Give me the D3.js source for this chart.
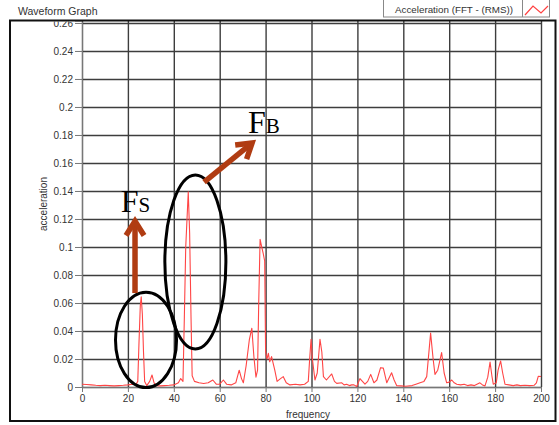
<!DOCTYPE html>
<html>
<head>
<meta charset="utf-8">
<script src="https://cdn.jsdelivr.net/npm/d3@7"></script>
<style>
  body { margin: 0; background: #fff; }
  svg { display: block; font-family: "Liberation Sans", Arial, sans-serif; }
  .tick text { fill: #333; font-size: 10px; }
</style>
</head>
<body>
<svg id="chart" width="559" height="425"></svg>
<script>
/*    ========    DATA    =========    */

// spectrum (frequency in Hz, acceleration RMS)
var freq = [0, 2, 4, 6, 8, 10, 12, 14, 16, 18, 20, 22, 23.5, 24.3, 24.8, 25.4, 25.8, 26.3, 26.8, 27.3,
    28.2, 29.5, 30.5, 31.4, 32.5, 34, 36, 38, 40, 42, 43, 44, 44.6, 45.2, 46.3, 46.9, 47.5, 48, 49,
    51, 53, 55, 57, 58.5, 60, 61.6, 63, 65, 67, 68.5, 69.5, 70.3, 71.5, 72.9, 74, 74.9, 75.8, 76.5,
    77, 77.6, 78.3, 79, 79.6, 80, 80.6, 81.2, 81.8, 82.6, 84, 85, 86.5, 87.7, 89, 90.6, 93, 95, 97,
    98.6, 99.2, 99.8, 100.4, 101.5, 102.5, 103.7, 104.5, 105.2, 106.5, 108.8, 110, 111, 113.2, 114.2,
    115.3, 116.5, 117.5, 118.5, 119.7, 121.1, 122.2, 123.3, 124.5, 125.8, 127.2, 128.5, 130.1, 131.3,
    132.8, 134.9, 136, 137.1, 139, 141, 143.8, 145.5, 147.3, 149, 150.2, 151.9, 153, 153.8, 155,
    156.7, 157.8, 158.9, 160, 161.1, 162.2, 163.3, 165, 166.5, 168, 169.5, 171, 173.4, 174.5, 175.6,
    176.8, 177.8, 178.6, 179.2, 180.5, 181.3, 182.4, 183.3, 184.3, 186, 187.9, 189.5, 191, 193, 195,
    197, 198, 198.8, 200];
var accel = [0.002, 0.0018, 0.0015, 0.0012, 0.001, 0.0012, 0.001, 0.0008, 0.001, 0.0012, 0.0015, 0.002,
    0.0018, 0.004, 0.03, 0.058, 0.0645, 0.052, 0.025, 0.004,
    0.001, 0.004, 0.0086, 0.003, 0.001, 0.0008, 0.001, 0.0012, 0.0015, 0.003, 0.006, 0.004, 0.05, 0.1,
    0.1395, 0.11, 0.05, 0.008, 0.004,
    0.003, 0.0025, 0.003, 0.005, 0.002, 0.002, 0.005, 0.002, 0.0015, 0.003, 0.012, 0.006, 0.003, 0.015,
    0.0336, 0.042, 0.0216, 0.007, 0.012,
    0.06, 0.1055, 0.1, 0.095, 0.09, 0.025, 0.02, 0.024, 0.018, 0.0217, 0.012, 0.004, 0.006, 0.0074,
    0.003, 0.0015, 0.002, 0.0015, 0.002,
    0.004, 0.02, 0.034, 0.02, 0.005, 0.01, 0.034, 0.025, 0.0074, 0.005, 0.0093, 0.004, 0.0026, 0.003,
    0.0015,
    0.002, 0.001, 0.0015, 0.0015, 0.0003, 0.006, 0.004, 0.002, 0.004, 0.009, 0.003, 0.005, 0.0138,
    0.0135,
    0.003, 0.0102, 0.005, 0.001, 0.0008, 0.0005, 0.001, 0.002, 0.003, 0.004, 0.0074, 0.0385, 0.02,
    0.009, 0.012,
    0.0246, 0.01, 0.003, 0.0035, 0.005, 0.003, 0.002, 0.0015, 0.002, 0.001, 0.0015, 0.001, 0.003,
    0.0015, 0.0008,
    0.007, 0.0178, 0.008, 0.002, 0.003, 0.012, 0.0186, 0.01, 0.002, 0.0015, 0.001, 0.0015, 0.001,
    0.0012, 0.001,
    0.0012, 0.003, 0.0076, 0.0075];

var xTicks = [0, 20, 40, 60, 80, 100, 120, 140, 160, 180, 200];
var yTicks = [0, 0.02, 0.04, 0.06, 0.08, 0.1, 0.12, 0.14, 0.16, 0.18, 0.2, 0.22, 0.24, 0.26];

var X_RANGE = [0, 200];
var Y_RANGE = [0, 0.2614];

// hand drawn marks over the graph, placed in data units
var ellipses = [
    { f: 27.9, v: 0.0336, rf: 13.3, rv: 0.034 },
    { f: 49.4, v: 0.0893, rf: 13.3, rv: 0.0621 }
];
var arrows = [
    { f1: 23.1, v1: 0.0671, f2: 23.1, v2: 0.1185 },
    { f1: 53.2, v1: 0.1464, f2: 74.1, v2: 0.1743 }
];
var marks = [
    { big: "F", small: "S", f: 16.9, v: 0.1252 },
    { big: "F", small: "B", f: 72.3, v: 0.1814 }
];

/*    ========    SETTINGS    =========    */

var svg = d3.select('#chart');

// plot box in pixels (note: `top` is a window global, so avoid that name)
var plotLeft = 82, plotRight = 541, plotTop = 21, plotBottom = 387;
var ARROW_COLOR = "#b03c12";

var xscale = d3.scaleLinear().domain(X_RANGE).range([plotLeft, plotRight]);
var yscale = d3.scaleLinear().domain(Y_RANGE).range([plotBottom, plotTop]);

/*    ========    FRAME, TITLE, LEGEND    =========    */

svg.append("text")
    .attr("x", 18).attr("y", 15)
    .style("font-size", "10.5px").style("fill", "#333")
    .text("Waveform Graph");

var legend = svg.append("g");
legend.append("rect")
    .attr("x", 383.5).attr("y", -1).attr("width", 166).attr("height", 18)
    .style("fill", "#fff").style("stroke", "#888");
legend.append("line")
    .attr("x1", 522.5).attr("x2", 522.5).attr("y1", 0).attr("y2", 17)
    .style("stroke", "#888");
legend.append("text")
    .attr("x", 395).attr("y", 12.5)
    .style("font-size", "9.8px").style("fill", "#333")
    .text("Acceleration (FFT - (RMS))");
legend.append("polyline")
    .attr("points", "525,15 533,6 541,13 548,6")
    .style("fill", "none").style("stroke", "#ff4040").style("stroke-width", 1.2);

/*    ========    GRID + AXES    =========    */

var defs = svg.append("defs");
defs.append("clipPath").attr("id", "labelClip")
    .append("rect").attr("x", 0).attr("y", 21.5).attr("width", 559).attr("height", 404);

var xGrid = d3.axisBottom(xscale).tickValues(xTicks).tickSize(-(plotBottom - plotTop)).tickFormat("");
var yGrid = d3.axisLeft(yscale).tickValues(yTicks).tickSize(-(plotRight - plotLeft)).tickFormat("");

svg.append("g").attr("class", "grid")
    .attr("transform", "translate(0," + plotBottom + ")")
    .call(xGrid);
svg.append("g").attr("class", "grid")
    .attr("transform", "translate(" + plotLeft + ",0)")
    .call(yGrid);
svg.selectAll(".grid .domain").remove();
svg.selectAll(".grid line").style("stroke", "#3d3d3d").style("stroke-width", 1.4);

var xAxis = d3.axisBottom(xscale).tickValues(xTicks).tickSize(5).tickPadding(3).tickFormat(d3.format("~g"));
var yAxis = d3.axisLeft(yscale).tickValues(yTicks).tickSize(7).tickPadding(2).tickFormat(d3.format("~g"));

svg.append("g").attr("class", "axis")
    .attr("transform", "translate(0," + plotBottom + ")")
    .call(xAxis);
// wrapper without transform so the clip rect is in page pixels
svg.append("g")
    .attr("clip-path", "url(#labelClip)")
    .append("g").attr("class", "axis")
    .attr("transform", "translate(" + plotLeft + ",0)")
    .call(yAxis);
svg.selectAll(".axis .domain").style("stroke", "#777");
svg.selectAll(".axis line").style("stroke", "#777");
svg.selectAll(".axis text").style("font-family", "'Liberation Sans', Arial, sans-serif");

svg.append("text")
    .attr("x", 308).attr("y", 418)
    .attr("text-anchor", "middle")
    .style("font-size", "10px").style("fill", "#333")
    .text("frequency");
svg.append("text")
    .attr("transform", "translate(47," + ((plotTop + plotBottom) / 2) + ") rotate(-90)")
    .attr("text-anchor", "middle")
    .style("font-size", "10px").style("fill", "#333")
    .text("acceleration");

// outer frame of the graph
svg.append("rect")
    .attr("x", 10).attr("y", 20.5).attr("width", 545.5).attr("height", 400.5)
    .style("fill", "none").style("stroke", "#111").style("stroke-width", 2);

/*    ========    SPECTRUM    =========    */

var series = freq.map(function(f, i) { return { f: f, v: accel[i] }; });

var lineGen = d3.line()
    .x(function(d) { return xscale(d.f); })
    .y(function(d) { return yscale(d.v); });

svg.append("path")
    .datum(series)
    .attr("d", lineGen)
    .style("fill", "none")
    .style("stroke", "#ff4545")
    .style("stroke-width", 1.1)
    .style("stroke-linejoin", "round");

/*    ========    ANNOTATIONS    =========    */

svg.selectAll("ellipse.note")
    .data(ellipses).enter()
    .append("ellipse")
    .attr("class", "note")
    .attr("cx", function(d) { return xscale(d.f); })
    .attr("cy", function(d) { return yscale(d.v); })
    .attr("rx", function(d) { return xscale(d.rf) - xscale(0); })
    .attr("ry", function(d) { return yscale(0) - yscale(d.rv); })
    .style("fill", "none").style("stroke", "#000").style("stroke-width", 3);

function drawArrow(d) {
    var x1 = xscale(d.f1), y1 = yscale(d.v1), x2 = xscale(d.f2), y2 = yscale(d.v2);
    var ang = Math.atan2(y1 - y2, x1 - x2);
    var L = 17, spread = 0.56;
    var g = svg.append("g")
        .style("stroke", ARROW_COLOR).style("stroke-width", 5.5).style("fill", "none");
    g.append("line")
        .attr("x1", x1).attr("y1", y1)
        .attr("x2", x2 + Math.cos(ang) * 3).attr("y2", y2 + Math.sin(ang) * 3);
    g.append("polyline")
        .attr("points", [
            [x2 + L * Math.cos(ang + spread), y2 + L * Math.sin(ang + spread)],
            [x2, y2],
            [x2 + L * Math.cos(ang - spread), y2 + L * Math.sin(ang - spread)]
        ].join(" "))
        .style("stroke-linejoin", "miter");
}
arrows.forEach(drawArrow);

marks.forEach(function(d) {
    var t = svg.append("text")
        .attr("x", xscale(d.f)).attr("y", yscale(d.v))
        .style("font-family", "'Liberation Serif', 'Times New Roman', serif")
        .style("fill", "#000");
    t.append("tspan").style("font-size", "32px").text(d.big);
    t.append("tspan").style("font-size", "21px").text(d.small);
});
</script>
</body>
</html>
